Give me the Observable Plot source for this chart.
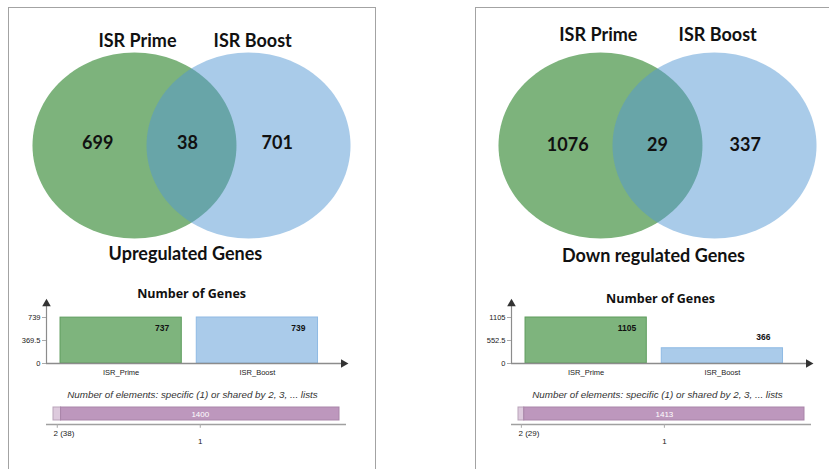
<!DOCTYPE html>
<html>
<head>
<meta charset="utf-8">
<script src="https://cdn.jsdelivr.net/npm/d3@7"></script>
<script src="https://cdn.jsdelivr.net/npm/@observablehq/plot@0.6"></script>
<style>
  html, body { margin: 0; padding: 0; background: #fff; }
  #page { position: relative; width: 829px; height: 469px; overflow: hidden; background: #fff; font-family: "Liberation Sans", Arial, sans-serif; }
  .panel { position: absolute; border: 1.5px solid #a3a3a3; box-sizing: border-box; }
  .chart { position: absolute; }
  .chart svg { overflow: visible; background: transparent; max-width: none !important; display: block; }
</style>
</head>
<body>
<div id="page"></div>
<script>
// ---------------- data ----------------
const setNames = ["ISR Prime", "ISR Boost"];
const barCategories = ["ISR_Prime", "ISR_Boost"];
const panelTitles = ["Upregulated Genes", "Down regulated Genes"];
const vennUp = [699, 38, 701];        // Prime only, shared, Boost only
const vennDown = [1076, 29, 337];
const totalsUp = [737, 739];
const totalsDown = [1105, 366];
const degreeLabels = ["2", "1"];
const degreeUp = [38, 1400];
const degreeDown = [29, 1413];
const barTitle = "Number of Genes";
const stackCaption = "Number of elements: specific (1) or shared by 2, 3, ... lists";

// ---------------- styles ----------------
const GREEN = "#7db37c", BLUE_OVER = "#5397d3";
const BAR_FILL = ["#7eb47d", "#aacbea"], BAR_STROKE = ["#5e9c5d", "#8fbae4"];
const DEG_FILL = ["#ddcadd", "#bd97bd"], DEG_STROKE = ["#b9a3b9", "#a985a9"];
const VENN_FONT = "Lato, 'Open Sans', sans-serif";

const page = document.getElementById("page");
function place(el, left, top, w, h) {
  const d = document.createElement("div");
  d.className = "chart";
  Object.assign(d.style, {left: left + "px", top: top + "px", width: w + "px", height: h + "px"});
  d.appendChild(el); page.appendChild(d);
}
function panel(left, top, w, h) {
  const d = document.createElement("div");
  d.className = "panel";
  Object.assign(d.style, {left: left + "px", top: top + "px", width: w + "px", height: h + "px"});
  page.appendChild(d);
}

// ---------------- venn ----------------
function venn(counts, title, lay) {
  const ry = 93 / 102, d = 0.559;
  const ellipse = (cx) => d3.range(0, 360, 3).map(a => ({x: cx + Math.cos(a * Math.PI / 180), y: ry * Math.sin(a * Math.PI / 180)}));
  const nameRows = setNames.map((n, i) => ({n, x: lay.nameX[i]}));
  const countRows = counts.map((c, i) => ({c: String(c), x: lay.countX[i]}));
  return Plot.plot({
    width: 360, height: 270, margin: 0,
    x: {domain: [-180 / 102, 180 / 102], axis: null},
    y: {domain: [-125 / 102, 145 / 102], axis: null},
    marks: [
      Plot.line(ellipse(-d), {x: "x", y: "y", fill: GREEN, stroke: "none", curve: "linear-closed"}),
      Plot.line(ellipse(d), {x: "x", y: "y", fill: BLUE_OVER, fillOpacity: 0.5, stroke: "none", curve: "linear-closed"}),
      Plot.text(nameRows, {x: "x", y: lay.nameY, text: "n", fontFamily: VENN_FONT, fontWeight: "bold", fontSize: 18, fill: "#111"}),
      Plot.text(countRows, {x: "x", y: lay.countY, text: "c", fontFamily: VENN_FONT, fontWeight: "bold", fontSize: 18, fill: "#111"}),
      Plot.text([title], {x: lay.titleX, y: lay.titleY, text: d => d, fontFamily: VENN_FONT, fontWeight: "bold", fontSize: 18, fill: "#111"})
    ]
  });
}

// ---------------- bar chart ----------------
function bars(totals, lay) {
  const max = d3.max(totals);
  const pxPerUnit = 46 / max;
  const rows = totals.map((v, i) => ({cat: barCategories[i], v, s: String(v), i, tall: v * pxPerUnit > 25}));
  return Plot.plot({
    width: 376, height: 100, marginLeft: 46, marginRight: 33, marginTop: 0, marginBottom: 0,
    x: {domain: [0, 2.18], axis: null},
    y: {domain: [0, max], range: [83, 37], axis: null},
    style: {fontFamily: "'Liberation Sans', Arial, sans-serif", color: "#222"},
    marks: [
      Plot.rect(rows, {x1: d => d.i + 0.103, x2: d => d.i + 0.993, y1: 0, y2: "v",
        fill: d => BAR_FILL[d.i], stroke: d => BAR_STROKE[d.i], strokeWidth: 1}),
      Plot.ruleY([0], {stroke: "#8c8c8c", strokeWidth: 1.5}),
      Plot.ruleX([0], {y1: 0, y2: max * 1.28, stroke: "#8c8c8c", strokeWidth: 1.2}),
      Plot.dot([0], {x: 2.18, y: 0, symbol: "triangle", rotate: 90, r: 3.2, fill: "#333", stroke: "none"}),
      Plot.dot([0], {x: 0, y: max * 1.3, symbol: "triangle", r: 3.2, fill: "#333", stroke: "none"}),
      Plot.axisY({ticks: [0, max / 2, max], tickFormat: d => String(d), label: null, tickSize: 4, tickPadding: 2, fontSize: 7.5, stroke: "#aaa"}),
      Plot.text(rows, {filter: d => d.tall, x: d => d.i + 0.848, y: "v", dy: 11, text: "s", fontWeight: "bold", fontSize: 8.5, fill: "#111"}),
      Plot.text(rows, {filter: d => !d.tall, x: d => d.i + 0.848, y: "v", dy: -11, text: "s", fontWeight: "bold", fontSize: 8.5, fill: "#111"}),
      Plot.text(rows, {x: d => d.i + 0.548, y: 0, dy: 9, text: "cat", fontSize: 7.5, fill: "#222"}),
      Plot.text([barTitle], {x: lay.titleX, y: max * lay.titleY, text: d => d, fontFamily: "'Open Sans', sans-serif", fontWeight: "bold", fontSize: 12.5, fill: "#111"})
    ]
  });
}

// ---------------- degree stack ----------------
function stack(values) {
  const total = d3.sum(values);
  const ends = d3.cumsum(values);
  const pxPerUnit = 286 / total;
  const rows = values.map((v, i) => {
    const x1 = ends[i] - v, x2 = ends[i];
    const small = v * pxPerUnit < 30;
    return {i, v, s: String(v), x1, x2, mid: (x1 + x2) / 2, small, label: small ? `${degreeLabels[i]} (${v})` : degreeLabels[i]};
  });
  return Plot.plot({
    width: 376, height: 70, marginLeft: 46, marginRight: 30, marginTop: 0, marginBottom: 0,
    x: {domain: [0, total], range: [53, 339], axis: null},
    y: {domain: [0, 1], range: [35, 22], axis: null},
    style: {fontFamily: "'Liberation Sans', Arial, sans-serif"},
    marks: [
      Plot.text([stackCaption], {x: total * 0.486, y: 2, text: d => d, fontStyle: "italic", fontSize: 9.8, fill: "#333"}),
      Plot.rect(rows, {x1: "x1", x2: "x2", y1: 0, y2: 1, fill: d => DEG_FILL[d.i], stroke: d => DEG_STROKE[d.i], strokeWidth: 1}),
      Plot.text(rows, {filter: d => !d.small, x: "mid", y: 0.5, text: "s", fill: "#fff", fontSize: 8}),
      Plot.ruleY([-0.31], {stroke: "#a0a0a0", strokeWidth: 1.5}),
      Plot.ruleX(rows, {x: "mid", y1: -0.31, y2: -0.6, stroke: "#aaa"}),
      Plot.text(rows, {filter: d => d.small, x: "x1", y: -1.0, text: "label", textAnchor: "start", fontSize: 8, fill: "#222"}),
      Plot.text(rows, {filter: d => !d.small, x: "mid", y: -1.6, text: "label", fontSize: 8, fill: "#222"})
    ]
  });
}

// ---------------- layout ----------------
panel(8, 7, 368, 480);
panel(475, 7, 400, 480);

place(venn(vennUp, panelTitles[0], {nameX: [-0.53, 0.60], nameY: 1.02, countX: [-0.92, -0.04, 0.84], countY: 0.02, titleX: -0.06, titleY: -1.07}), 11, 0, 360, 270);
place(venn(vennDown, panelTitles[1], {nameX: [-0.58, 0.59], nameY: 1.08, countX: [-0.88, 0.0, 0.86], countY: 0.0, titleX: -0.04, titleY: -1.085}), 477, 0, 360, 270);

place(bars(totalsUp, {titleX: 1.065, titleY: 1.52}), 0, 280, 376, 100);
place(bars(totalsDown, {titleX: 1.094, titleY: 1.41}), 465, 280, 376, 100);

place(stack(degreeUp), 0, 385, 376, 70);
place(stack(degreeDown), 465, 385, 376, 70);
</script>
</body>
</html>
